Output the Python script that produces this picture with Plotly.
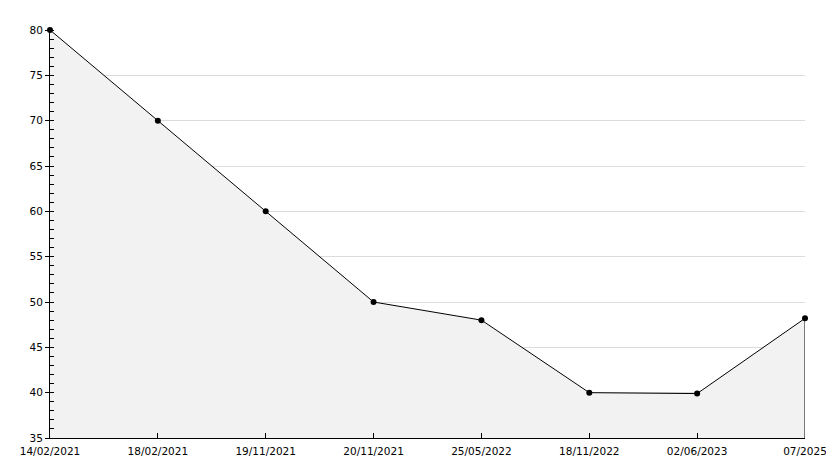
import plotly.graph_objects as go

dates = ["14/02/2021", "18/02/2021", "19/11/2021", "20/11/2021",
         "25/05/2022", "18/11/2022", "02/06/2023", "07/2025"]
values = [80, 70, 60, 50, 48, 40, 39.9, 48.2]
y_min, y_max = 35, 80

xs = list(range(len(dates)))

fig = go.Figure()
fig.add_trace(go.Scatter(
    x=xs, y=values, mode="lines+markers",
    line=dict(color="black", width=1),
    marker=dict(symbol="circle", size=6, color="black"),
    fill="tozeroy", fillcolor="#f2f2f2",
    hoverinfo="skip", showlegend=False, cliponaxis=False,
))
# closing edge of filled area at last point
fig.add_shape(type="line", x0=xs[-1], x1=xs[-1], y0=y_min, y1=values[-1],
              line=dict(color="black", width=1), layer="above")

fig.update_layout(
    width=834, height=468,
    margin=dict(l=42, r=37, t=22, b=38),
    paper_bgcolor="white", plot_bgcolor="white",
    font=dict(family="DejaVu Sans", size=10.5, color="black"),
    xaxis=dict(
        range=[0, len(dates) - 1], tickmode="array", tickvals=xs, ticktext=dates,
        showgrid=False, zeroline=False, showline=True, linecolor="black", linewidth=1,
        ticks="inside", ticklen=5, tickcolor="black", automargin=False,
        ticklabelstandoff=3,
    ),
    yaxis=dict(
        range=[y_min, y_max], dtick=5, tick0=35,
        showgrid=True, gridcolor="#dcdcdc", gridwidth=1, zeroline=False,
        showline=True, linecolor="black", linewidth=1,
        ticks="outside", ticklen=4, tickcolor="black", automargin=False,
        minor=dict(ticks="inside", ticklen=4, dtick=1, tickcolor="black", showgrid=False),
    ),
)
fig.write_html("out.html")
